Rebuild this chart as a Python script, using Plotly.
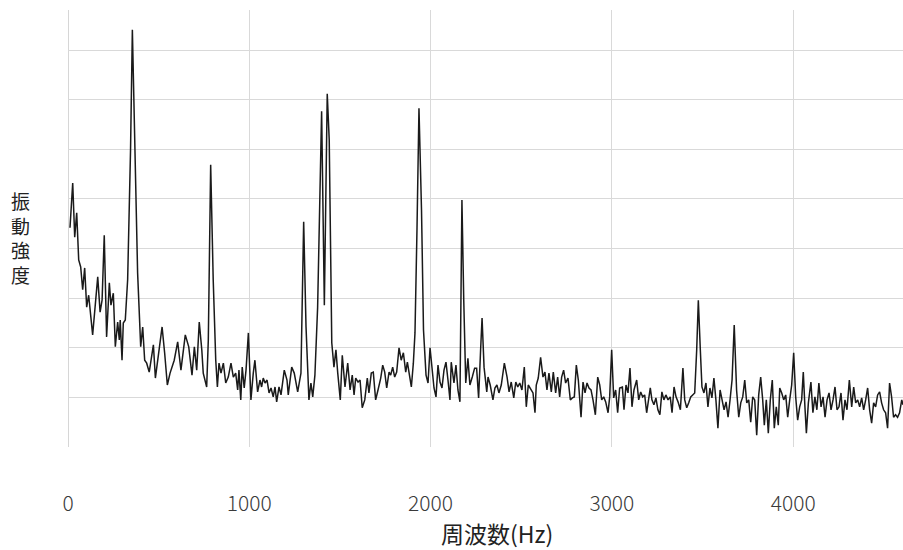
import plotly.graph_objects as go

# Vibration spectrum: frequency bins (Hz) and vibration intensity (arbitrary units)
freq_hz = [
    11, 26, 37, 48, 59, 70, 81, 92, 103, 114, 136, 164, 177, 188, 200, 213, 228, 237, 250, 261,
    274, 283, 288, 298, 305, 316, 329, 342, 345, 355, 364, 371, 384, 401, 412, 423, 434, 448, 471, 482,
    495, 519, 533, 548, 563, 586, 605, 623, 647, 666, 684, 697, 710, 724, 738, 746, 765, 774, 787, 801,
    815, 824, 833, 844, 857, 870, 884, 899, 912, 925, 936, 943, 953, 961, 972, 982, 995, 1009, 1022, 1031,
    1046, 1059, 1068, 1077, 1087, 1098, 1109, 1120, 1132, 1142, 1151, 1164, 1175, 1193, 1208, 1215, 1234, 1248, 1267, 1285,
    1300, 1313, 1329, 1340, 1350, 1362, 1377, 1390, 1399, 1414, 1430, 1441, 1449, 1455, 1467, 1478, 1488, 1502, 1513, 1528,
    1543, 1556, 1568, 1578, 1587, 1600, 1611, 1623, 1637, 1651, 1660, 1673, 1684, 1697, 1710, 1725, 1736, 1747, 1758, 1771,
    1780, 1791, 1802, 1813, 1826, 1838, 1850, 1863, 1872, 1885, 1894, 1905, 1914, 1925, 1936, 1950, 1961, 1975, 1986, 1997,
    2008, 2019, 2030, 2041, 2052, 2063, 2074, 2085, 2096, 2107, 2114, 2129, 2140, 2151, 2162, 2173, 2183, 2194, 2206, 2217,
    2230, 2243, 2254, 2265, 2276, 2284, 2295, 2310, 2317, 2329, 2344, 2355, 2366, 2377, 2390, 2407, 2422, 2433, 2445, 2459,
    2470, 2481, 2492, 2504, 2517, 2528, 2539, 2550, 2565, 2576, 2583, 2594, 2607, 2620, 2631, 2642, 2653, 2666, 2677, 2690,
    2701, 2712, 2723, 2734, 2745, 2758, 2771, 2782, 2793, 2804, 2815, 2830, 2841, 2852, 2863, 2874, 2885, 2896, 2909, 2922,
    2933, 2944, 2955, 2966, 2979, 2988, 2999, 3010, 3021, 3032, 3043, 3058, 3067, 3078, 3089, 3100, 3111, 3122, 3137, 3148,
    3159, 3170, 3181, 3192, 3203, 3212, 3221, 3232, 3243, 3254, 3265, 3276, 3287, 3298, 3310, 3322, 3332, 3343, 3354, 3365,
    3378, 3392, 3402, 3413, 3424, 3435, 3446, 3457, 3468, 3477, 3488, 3497, 3508, 3519, 3530, 3541, 3552, 3563, 3574, 3585,
    3597, 3608, 3619, 3630, 3641, 3652, 3663, 3675, 3688, 3700, 3711, 3722, 3733, 3744, 3755, 3766, 3777, 3788, 3799, 3810,
    3821, 3832, 3841, 3852, 3863, 3874, 3885, 3896, 3907, 3918, 3926, 3937, 3948, 3959, 3970, 3981, 3992, 4003, 4014, 4025,
    4036, 4047, 4056, 4065, 4073, 4084, 4098, 4109, 4120, 4131, 4142, 4154, 4165, 4176, 4187, 4198, 4209, 4220, 4231, 4242,
    4253, 4264, 4275, 4286, 4297, 4310, 4323, 4334, 4345, 4356, 4367, 4378, 4389, 4400, 4411, 4422, 4433, 4444, 4455, 4466,
    4477, 4488, 4499, 4510, 4521, 4532, 4543, 4554, 4565, 4576, 4587, 4599, 4606,
]

intensity = [
    4.42, 5.32, 4.23, 4.72, 3.77, 3.63, 3.17, 3.61, 2.82, 3.06, 2.26, 3.43, 2.72, 2.96, 4.27, 2.22, 3.31, 2.86, 3.10, 2.02,
    2.52, 2.16, 2.56, 1.75, 2.50, 2.56, 3.37, 5.18, 5.99, 8.41, 6.79, 5.12, 3.51, 2.02, 2.42, 1.75, 1.69, 1.51, 2.06, 1.39,
    1.75, 2.42, 1.90, 1.25, 1.49, 1.75, 2.12, 1.55, 2.26, 2.02, 1.45, 2.02, 1.55, 2.52, 1.96, 1.49, 1.21, 2.16, 5.69, 3.37,
    1.75, 1.21, 1.69, 1.49, 1.69, 1.29, 1.41, 1.69, 1.41, 1.49, 1.15, 1.55, 0.95, 1.61, 1.19, 1.55, 2.30, 0.95, 1.49, 1.75,
    1.11, 1.35, 1.21, 1.39, 1.29, 1.35, 1.09, 1.19, 1.01, 1.21, 0.91, 1.21, 1.05, 1.55, 1.35, 1.05, 1.61, 1.49, 1.11, 1.49,
    4.54, 2.42, 0.95, 1.29, 1.01, 1.45, 2.82, 4.84, 6.77, 2.86, 7.12, 6.19, 3.97, 2.10, 1.61, 1.96, 1.49, 0.95, 1.85, 1.21,
    1.69, 1.15, 1.45, 1.05, 1.39, 1.31, 1.35, 0.79, 0.95, 1.39, 1.09, 1.49, 1.51, 0.95, 1.15, 1.39, 1.65, 1.51, 1.19, 1.51,
    1.45, 1.61, 1.41, 1.51, 2.00, 1.75, 1.90, 1.51, 1.71, 1.45, 1.21, 1.69, 2.30, 4.37, 6.83, 4.78, 2.36, 1.45, 1.29, 2.00,
    1.51, 1.19, 1.01, 1.65, 1.31, 1.19, 1.55, 1.71, 1.35, 0.95, 1.71, 1.29, 1.65, 1.15, 0.91, 4.98, 2.96, 1.29, 1.79, 1.25,
    1.41, 1.59, 1.59, 0.99, 1.96, 2.60, 1.61, 1.11, 1.41, 1.25, 0.95, 1.19, 1.25, 1.09, 1.25, 1.69, 1.41, 1.11, 1.31, 0.99,
    1.31, 1.21, 1.29, 1.15, 1.61, 0.81, 1.25, 1.19, 1.09, 0.69, 1.25, 1.39, 1.81, 1.41, 1.51, 1.15, 1.49, 1.11, 1.51, 1.09,
    1.41, 1.01, 1.41, 1.55, 1.29, 1.39, 0.95, 0.99, 1.01, 1.65, 1.35, 0.60, 1.31, 1.09, 1.29, 1.19, 1.15, 0.95, 0.65, 1.41,
    1.25, 0.95, 1.01, 0.91, 0.69, 1.01, 1.96, 0.99, 1.15, 0.69, 1.19, 1.21, 0.75, 1.25, 1.09, 1.59, 0.81, 1.15, 1.35, 0.95,
    1.11, 1.01, 1.05, 0.69, 0.99, 1.19, 0.95, 0.85, 0.99, 0.75, 0.65, 1.11, 0.95, 1.05, 0.95, 1.01, 0.69, 1.21, 1.01, 0.91,
    0.75, 1.59, 0.95, 0.79, 0.89, 1.01, 1.05, 1.09, 1.96, 2.96, 1.96, 1.21, 1.09, 1.29, 0.81, 1.19, 0.99, 1.39, 0.95, 0.38,
    1.15, 0.91, 0.75, 0.91, 0.60, 0.95, 1.35, 2.46, 1.15, 0.60, 0.89, 1.01, 1.35, 0.89, 0.95, 0.50, 1.01, 0.95, 0.24, 1.05,
    1.41, 0.95, 0.44, 0.95, 0.28, 0.95, 1.35, 0.38, 0.81, 0.44, 1.19, 1.09, 0.95, 1.05, 0.60, 0.95, 1.25, 1.90, 1.01, 0.54,
    0.81, 0.95, 1.51, 0.81, 0.28, 0.89, 1.31, 0.69, 1.01, 0.75, 1.29, 0.81, 1.01, 0.60, 0.95, 1.09, 0.75, 0.95, 1.21, 0.75,
    0.81, 1.09, 0.54, 0.95, 0.75, 1.35, 0.81, 1.21, 0.89, 0.95, 0.81, 0.99, 0.75, 0.95, 1.19, 0.75, 0.48, 0.89, 0.81, 1.05,
    1.11, 0.89, 0.75, 0.69, 0.38, 1.29, 1.01, 0.60, 0.65, 0.60, 0.69, 0.95, 0.85,
]

x_ticks = [0, 1000, 2000, 3000, 4000]
y_grid = [1, 2, 3, 4, 5, 6, 7, 8]
x_title = "周波数(Hz)"
y_title = "振<br>動<br>強<br>度"

CJK = "Noto Sans CJK JP"
GRID = "#d9d9d9"

fig = go.Figure(
    go.Scatter(
        x=freq_hz,
        y=intensity,
        mode="lines",
        line=dict(color="#1a1a1a", width=1.5),
        hoverinfo="skip",
        showlegend=False,
    )
)

fig.update_xaxes(
    range=[0, 4606],
    tickmode="array",
    tickvals=x_ticks,
    ticktext=[str(v) for v in x_ticks],
    showgrid=True,
    gridcolor=GRID,
    gridwidth=1,
    zeroline=False,
    showline=False,
    ticks="",
    ticklabelstandoff=42,
    tickfont=dict(family=CJK, size=21, weight=300, color="#3a3a3a"),
)
fig.update_yaxes(
    range=[0, 8.81],
    tickmode="array",
    tickvals=y_grid,
    showticklabels=False,
    showgrid=True,
    gridcolor=GRID,
    gridwidth=1,
    zeroline=False,
    showline=False,
    ticks="",
)

# vertical axis line at 0 Hz
fig.add_shape(type="line", xref="x", yref="paper", x0=0, x1=0, y0=0, y1=1,
              line=dict(color="#c8c8c8", width=1.5), layer="below")

fig.update_layout(
    width=903,
    height=550,
    margin=dict(l=68, r=0, t=10, b=103),
    paper_bgcolor="white",
    plot_bgcolor="white",
    annotations=[
        dict(text=x_title, xref="paper", yref="paper", x=0.514, y=-0.197,
             xanchor="center", yanchor="middle", showarrow=False,
             font=dict(family=CJK, size=23, color="#222222")),
        dict(text=y_title, xref="paper", yref="paper", x=-0.0563, y=0.4805,
             xanchor="center", yanchor="middle", showarrow=False,
             font=dict(family=CJK, size=19, color="#222222")),
    ],
)

fig.write_html("out.html")
